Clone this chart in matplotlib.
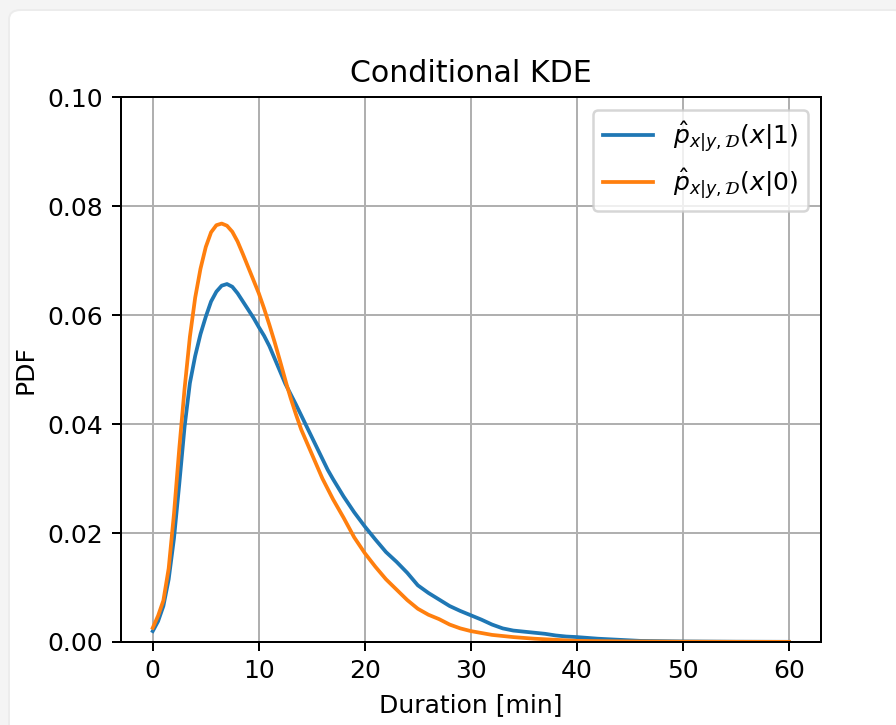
import numpy as np
import matplotlib
matplotlib.use("Agg")
import matplotlib.pyplot as plt
from matplotlib.patches import FancyBboxPatch

# Duration grid [min] and KDE values
x_y1 = [0, 0.5, 1, 1.5, 2, 2.5, 3, 3.5, 4, 4.5, 5, 5.5, 6, 6.5, 7, 7.5, 8, 8.5, 9, 9.5,
        10, 10.5, 11, 11.5, 12, 12.5, 13, 13.5, 14, 14.5, 15, 15.5, 16, 16.5, 17, 17.5,
        18, 19, 20, 21, 22, 23, 24, 25, 26, 27, 28, 29, 30, 31, 32, 33, 34, 35, 36, 37,
        38, 39, 40, 42, 44, 46, 50, 55, 60]
pdf_y1 = [0.0020, 0.0038, 0.0066, 0.0115, 0.0190, 0.0290, 0.0395, 0.0475, 0.0525, 0.0565,
          0.0597, 0.0625, 0.0643, 0.0654, 0.0657, 0.0652, 0.0640, 0.0625, 0.0610, 0.0595,
          0.0578, 0.0562, 0.0543, 0.0520, 0.0497, 0.0474, 0.0455, 0.0436, 0.0416, 0.0396,
          0.0376, 0.0356, 0.0336, 0.0316, 0.0299, 0.0283, 0.0267, 0.0238, 0.0212, 0.0188,
          0.0165, 0.0147, 0.0127, 0.0104, 0.0090, 0.0078, 0.0066, 0.0057, 0.0049, 0.0041,
          0.0032, 0.0025, 0.0021, 0.0019, 0.0017, 0.0015, 0.0012, 0.0010, 0.0009, 0.0006,
          0.0004, 0.0002, 0.0001, 0.00005, 0.00003]

x_y0 = [0, 0.5, 1, 1.5, 2, 2.5, 3, 3.5, 4, 4.5, 5, 5.5, 6, 6.5, 7, 7.5, 8, 8.5, 9, 9.5,
        10, 10.5, 11, 11.5, 12, 12.6, 13, 13.5, 14, 15, 16, 17, 18, 19, 20, 21, 22, 23,
        24, 25, 26, 27, 28, 29, 30, 32, 34, 36, 38, 40, 45, 50, 55, 60]
pdf_y0 = [0.0026, 0.0048, 0.0076, 0.0135, 0.0235, 0.0355, 0.0465, 0.0560, 0.0632, 0.0685,
          0.0725, 0.0752, 0.0765, 0.0768, 0.0764, 0.0753, 0.0735, 0.0712, 0.0688, 0.0664,
          0.0640, 0.0612, 0.0582, 0.0550, 0.0516, 0.0474, 0.0448, 0.0418, 0.0390, 0.0345,
          0.0300, 0.0262, 0.0228, 0.0192, 0.0163, 0.0138, 0.0115, 0.0096, 0.0077, 0.0061,
          0.0050, 0.0042, 0.0032, 0.0025, 0.0020, 0.0013, 0.0009, 0.0006, 0.0004, 0.0002,
          0.0001, 0.00005, 0.00003, 0.00002]

labels = [r"$\hat{p}_{x|y,\mathcal{D}}(x|1)$", r"$\hat{p}_{x|y,\mathcal{D}}(x|0)$"]

DPI = 180
fig = plt.figure(figsize=(896 / DPI, 725 / DPI), dpi=DPI)
fig.patch.set_facecolor("#f4f4f4")

# white card behind the plot, like the screenshot
card = FancyBboxPatch((9 / 896, -0.05), 1.0, 1.05 - 10 / 725, transform=fig.transFigure,
                      boxstyle="round,pad=0,rounding_size=0.013",
                      facecolor="white", edgecolor="#ececec", linewidth=0.8, zorder=-10)
fig.patches.append(card)

ax = fig.add_axes([0.135, 0.1145, 0.781, 0.7515])
ax.plot(x_y1, pdf_y1, label=labels[0])
ax.plot(x_y0, pdf_y0, label=labels[1])

ax.set_ylim(0, 0.1)
ax.set_xlim(-3, 63)
ax.set_title("Conditional KDE")
ax.set_xlabel("Duration [min]")
ax.set_ylabel("PDF")
ax.grid(True)
ax.legend(loc="upper right")

fig.savefig("out.png", dpi=DPI, facecolor=fig.get_facecolor())
